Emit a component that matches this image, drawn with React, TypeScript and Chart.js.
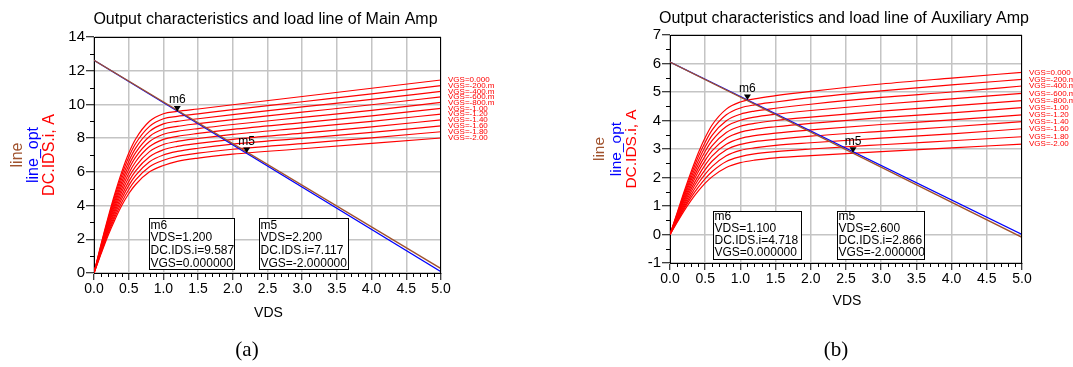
import React, { useEffect, useRef } from 'react';
import { Chart, registerables } from 'chart.js';

Chart.register(...registerables);

const FONT = '"Liberation Sans", Arial, sans-serif';
const SERIF = '"Liberation Serif", "Times New Roman", serif';
const RED = '#ff0000';
const BLUE = '#0000ff';
const BROWN = '#a0522d';
const GRID = '#c4c4c4';

// shared sweep of drain voltage (VDS, V)
const VDS = [0, 0.1, 0.2, 0.3, 0.4, 0.5, 0.6, 0.8, 1.0, 1.2, 1.5, 2.0, 3.0, 4.0, 5.0];
const VGS_LABELS = ['VGS=0.000', 'VGS=-200.m', 'VGS=-400.m', 'VGS=-600.m', 'VGS=-800.m', 'VGS=-1.00', 'VGS=-1.20', 'VGS=-1.40', 'VGS=-1.60', 'VGS=-1.80', 'VGS=-2.00'];
const X_RANGE = [0, 5];
const X_STEP = 0.5;
const X_MINOR = 0.1;

// ---- Main amp: DC.IDS.i (A) for each VGS ----
const MAIN_VGS_0_0 = [0, 1.68, 3.25, 4.70, 6.00, 7.10, 7.95, 9.00, 9.45, 9.59, 9.73, 9.98, 10.47, 10.96, 11.45];
const MAIN_VGS_0_2 = [0, 1.62, 3.15, 4.55, 5.80, 6.86, 7.68, 8.70, 9.15, 9.29, 9.44, 9.69, 10.16, 10.63, 11.11];
const MAIN_VGS_0_4 = [0, 1.57, 3.04, 4.39, 5.60, 6.62, 7.41, 8.40, 8.85, 9.00, 9.15, 9.39, 9.85, 10.30, 10.77];
const MAIN_VGS_0_6 = [0, 1.51, 2.94, 4.24, 5.40, 6.38, 7.14, 8.10, 8.54, 8.70, 8.86, 9.10, 9.54, 9.98, 10.45];
const MAIN_VGS_0_8 = [0, 1.46, 2.83, 4.08, 5.20, 6.14, 6.87, 7.80, 8.23, 8.40, 8.57, 8.81, 9.23, 9.65, 10.12];
const MAIN_VGS_1_0 = [0, 1.40, 2.73, 3.93, 5.00, 5.90, 6.60, 7.50, 7.93, 8.11, 8.28, 8.52, 8.92, 9.32, 9.77];
const MAIN_VGS_1_2 = [0, 1.35, 2.62, 3.77, 4.80, 5.66, 6.33, 7.20, 7.62, 7.81, 7.98, 8.22, 8.61, 9.00, 9.43];
const MAIN_VGS_1_4 = [0, 1.29, 2.52, 3.62, 4.60, 5.42, 6.06, 6.90, 7.31, 7.51, 7.69, 7.93, 8.30, 8.67, 9.08];
const MAIN_VGS_1_6 = [0, 1.23, 2.41, 3.46, 4.40, 5.18, 5.79, 6.60, 7.00, 7.21, 7.40, 7.64, 7.99, 8.34, 8.73];
const MAIN_VGS_1_8 = [0, 1.18, 2.31, 3.31, 4.20, 4.94, 5.52, 6.30, 6.69, 6.92, 7.11, 7.34, 7.68, 8.02, 8.38];
const MAIN_VGS_2_0 = [0, 1.12, 2.20, 3.15, 4.00, 4.70, 5.25, 6.00, 6.38, 6.62, 6.82, 7.05, 7.37, 7.69, 8.01];
const MAIN_CURVES = [MAIN_VGS_0_0, MAIN_VGS_0_2, MAIN_VGS_0_4, MAIN_VGS_0_6, MAIN_VGS_0_8, MAIN_VGS_1_0, MAIN_VGS_1_2, MAIN_VGS_1_4, MAIN_VGS_1_6, MAIN_VGS_1_8, MAIN_VGS_2_0];

const LOAD_VDS = [0, 5];
const MAIN_LINE = [12.62, 0.26];
const MAIN_LINE_OPT = [12.62, 0.08];
const MAIN_Y_RANGE = [0, 14];
const MAIN_Y_STEP = 2;
const MAIN_Y_MINOR = 1;
const MAIN_MARKER_NAMES = ['m6', 'm5'];
const MAIN_MARKER_VDS = [1.2, 2.2];
const MAIN_MARKER_IDS = [9.587, 7.117];
const MAIN_MARKER_VGS = [0, -2];

// ---- Auxiliary amp ----
const AUX_VGS_0_0 = [0, 0.75, 1.50, 2.20, 2.85, 3.40, 3.85, 4.40, 4.65, 4.76, 4.87, 5.02, 5.28, 5.49, 5.69];
const AUX_VGS_0_2 = [0, 0.72, 1.43, 2.10, 2.72, 3.24, 3.67, 4.20, 4.44, 4.55, 4.65, 4.80, 5.04, 5.25, 5.44];
const AUX_VGS_0_4 = [0, 0.68, 1.37, 2.00, 2.58, 3.08, 3.49, 3.99, 4.22, 4.33, 4.43, 4.57, 4.81, 5.00, 5.21];
const AUX_VGS_0_6 = [0, 0.65, 1.30, 1.90, 2.45, 2.92, 3.30, 3.79, 4.01, 4.12, 4.22, 4.35, 4.57, 4.76, 4.95];
const AUX_VGS_0_8 = [0, 0.62, 1.23, 1.80, 2.32, 2.76, 3.12, 3.58, 3.80, 3.90, 4.00, 4.12, 4.33, 4.51, 4.70];
const AUX_VGS_1_0 = [0, 0.59, 1.17, 1.70, 2.19, 2.60, 2.94, 3.38, 3.59, 3.69, 3.78, 3.90, 4.10, 4.27, 4.45];
const AUX_VGS_1_2 = [0, 0.55, 1.10, 1.60, 2.05, 2.44, 2.76, 3.17, 3.37, 3.47, 3.56, 3.67, 3.86, 4.02, 4.20];
const AUX_VGS_1_4 = [0, 0.52, 1.03, 1.50, 1.92, 2.28, 2.58, 2.97, 3.16, 3.26, 3.34, 3.45, 3.62, 3.78, 3.96];
const AUX_VGS_1_6 = [0, 0.49, 0.96, 1.40, 1.79, 2.12, 2.39, 2.76, 2.95, 3.04, 3.13, 3.22, 3.38, 3.53, 3.71];
const AUX_VGS_1_8 = [0, 0.45, 0.90, 1.30, 1.65, 1.96, 2.21, 2.56, 2.73, 2.83, 2.91, 3.00, 3.15, 3.29, 3.43];
const AUX_VGS_2_0 = [0, 0.42, 0.83, 1.20, 1.52, 1.80, 2.03, 2.35, 2.52, 2.61, 2.69, 2.77, 2.91, 3.04, 3.17];
const AUX_CURVES = [AUX_VGS_0_0, AUX_VGS_0_2, AUX_VGS_0_4, AUX_VGS_0_6, AUX_VGS_0_8, AUX_VGS_1_0, AUX_VGS_1_2, AUX_VGS_1_4, AUX_VGS_1_6, AUX_VGS_1_8, AUX_VGS_2_0];

const AUX_LINE = [6.05, -0.10];
const AUX_LINE_OPT = [6.05, 0.0];
const AUX_Y_RANGE = [-1, 7];
const AUX_Y_STEP = 1;
const AUX_Y_MINOR = 0.5;
const AUX_MARKER_NAMES = ['m6', 'm5'];
const AUX_MARKER_VDS = [1.1, 2.6];
const AUX_MARKER_IDS = [4.718, 2.866];
const AUX_MARKER_VGS = [0, -2];

type Cfg = {
  key: string;
  w: number;
  offsetX: number;
  yAxisWidth: number;
  padTop: number;
  padRight: number;
  padBottom: number;
  title: string;
  titleBaseline: number;
  curves: number[][];
  line: number[];
  lineOpt: number[];
  yRange: number[];
  yStep: number;
  yMinor: number;
  markerNames: string[];
  markerVds: number[];
  markerIds: number[];
  markerVgs: number[];
  boxes: { x: number; y: number; w: number; h: number }[];
  boxFirst: number;
  boxSpacing: number;
  yTitleX: number[];
  yTitleFont: number;
  xTitleBaseline: number;
  sub: string;
  subX: number;
  subBaseline: number;
  labelFont: number;
};

function overlay(cfg: Cfg) {
  return {
    id: 'overlay_' + cfg.key,
    afterDraw(chart: any) {
      const { ctx, chartArea: a, scales } = chart;
      const xs = scales.x;
      const ys = scales.y;
      ctx.save();
      // top and right frame
      ctx.strokeStyle = '#000';
      ctx.lineWidth = 1;
      ctx.beginPath();
      ctx.moveTo(a.left, a.top + 0.5);
      ctx.lineTo(a.right, a.top + 0.5);
      ctx.moveTo(a.right - 0.5, a.top);
      ctx.lineTo(a.right - 0.5, a.bottom);
      ctx.stroke();

      // minor ticks
      ctx.beginPath();
      const nx = Math.round((X_RANGE[1] - X_RANGE[0]) / X_MINOR);
      for (let i = 0; i <= nx; i++) {
        if (i % Math.round(X_STEP / X_MINOR) === 0) continue;
        const px = Math.round(xs.getPixelForValue(X_RANGE[0] + i * X_MINOR)) + 0.5;
        ctx.moveTo(px, a.bottom);
        ctx.lineTo(px, a.bottom + 4);
      }
      const ny = Math.round((cfg.yRange[1] - cfg.yRange[0]) / cfg.yMinor);
      for (let i = 0; i <= ny; i++) {
        if (i % Math.round(cfg.yStep / cfg.yMinor) === 0) continue;
        const py = Math.round(ys.getPixelForValue(cfg.yRange[0] + i * cfg.yMinor)) + 0.5;
        ctx.moveTo(a.left - 4, py);
        ctx.lineTo(a.left, py);
      }
      ctx.stroke();

      // curve labels at the right end of each VGS curve
      ctx.fillStyle = RED;
      ctx.font = `${cfg.labelFont}px ${FONT}`;
      ctx.textAlign = 'left';
      ctx.textBaseline = 'middle';
      cfg.curves.forEach((arr, i) => {
        const py = ys.getPixelForValue(arr[arr.length - 1]);
        ctx.fillText(VGS_LABELS[i], a.right + 7, py);
      });

      // markers
      ctx.fillStyle = '#000';
      ctx.font = `12px ${FONT}`;
      ctx.textAlign = 'center';
      ctx.textBaseline = 'alphabetic';
      cfg.markerNames.forEach((name, i) => {
        const px = xs.getPixelForValue(cfg.markerVds[i]);
        const py = ys.getPixelForValue(cfg.markerIds[i]);
        ctx.beginPath();
        ctx.moveTo(px, py);
        ctx.lineTo(px - 3.5, py - 5.5);
        ctx.lineTo(px + 3.5, py - 5.5);
        ctx.closePath();
        ctx.fill();
        ctx.fillText(name, px, py - 8);
      });

      // marker readout boxes
      ctx.textAlign = 'left';
      ctx.strokeStyle = '#000';
      ctx.lineWidth = 1;
      cfg.boxes.forEach((b, i) => {
        ctx.fillStyle = '#fff';
        ctx.fillRect(b.x, b.y, b.w, b.h);
        ctx.strokeRect(b.x + 0.5, b.y + 0.5, b.w, b.h);
        ctx.fillStyle = '#000';
        const lines = [
          cfg.markerNames[i],
          `VDS=${cfg.markerVds[i].toFixed(3)}`,
          `DC.IDS.i=${cfg.markerIds[i].toFixed(3)}`,
          `VGS=${cfg.markerVgs[i].toFixed(6)}`,
        ];
        lines.forEach((t, k) => ctx.fillText(t, b.x + 1.5, b.y + cfg.boxFirst + k * cfg.boxSpacing));
      });

      // title
      const cx = (a.left + a.right) / 2;
      ctx.textAlign = 'center';
      ctx.font = `16px ${FONT}`;
      ctx.fillText(cfg.title, cx - 2, cfg.titleBaseline);

      // x axis title
      ctx.font = `14px ${FONT}`;
      ctx.fillText('VDS', cx + 1, cfg.xTitleBaseline);

      // y axis title (three coloured lines, rotated)
      const cy = (a.top + a.bottom) / 2;
      const yt: [string, string][] = [['line', BROWN], ['line_opt', BLUE], ['DC.IDS.i, A', RED]];
      ctx.font = `${cfg.yTitleFont}px ${FONT}`;
      ctx.textBaseline = 'middle';
      yt.forEach(([t, c], i) => {
        ctx.save();
        ctx.translate(cfg.yTitleX[i], cy);
        ctx.rotate(-Math.PI / 2);
        ctx.fillStyle = c;
        ctx.fillText(t, 0, 0);
        ctx.restore();
      });

      // sub caption
      ctx.fillStyle = '#000';
      ctx.textBaseline = 'alphabetic';
      ctx.font = `21px ${SERIF}`;
      ctx.fillText(cfg.sub, cfg.subX, cfg.subBaseline);
      ctx.restore();
    },
  };
}

function buildConfig(cfg: Cfg): any {
  const curveSets = cfg.curves.map((arr, i) => ({
    label: VGS_LABELS[i],
    data: VDS.map((x, k) => ({ x, y: arr[k] })),
    borderColor: RED,
    borderWidth: 1.2,
    pointRadius: 0,
    cubicInterpolationMode: 'monotone',
    fill: false,
    order: 2,
  }));
  const lineOpt = {
    label: 'line_opt',
    data: LOAD_VDS.map((x, k) => ({ x, y: cfg.lineOpt[k] })),
    borderColor: BLUE,
    borderWidth: 1.3,
    pointRadius: 0,
    fill: false,
    order: 1,
  };
  const line = {
    label: 'line',
    data: LOAD_VDS.map((x, k) => ({ x, y: cfg.line[k] })),
    borderColor: BROWN,
    borderWidth: 1.3,
    pointRadius: 0,
    fill: false,
    order: 0,
  };
  return {
    type: 'line',
    data: { datasets: [...curveSets, lineOpt, line] },
    options: {
      responsive: false,
      animation: false,
      devicePixelRatio: 1,
      layout: { padding: { left: 0, right: cfg.padRight, top: cfg.padTop, bottom: cfg.padBottom } },
      plugins: { legend: { display: false }, title: { display: false }, tooltip: { enabled: false } },
      scales: {
        x: {
          type: 'linear',
          min: X_RANGE[0],
          max: X_RANGE[1],
          afterFit: (s: any) => { s.height = 40; },
          ticks: {
            stepSize: X_STEP,
            callback: (v: any) => Number(v).toFixed(1),
            font: { family: FONT, size: 14 },
            color: '#000',
            padding: 1,
            maxRotation: 0,
            autoSkip: false,
          },
          grid: { color: GRID, lineWidth: 1.5, tickColor: '#000', tickLength: 7, tickWidth: 1 },
          border: { display: true, color: '#000', width: 1 },
        },
        y: {
          type: 'linear',
          min: cfg.yRange[0],
          max: cfg.yRange[1],
          afterFit: (s: any) => { s.width = cfg.yAxisWidth; },
          ticks: {
            stepSize: cfg.yStep,
            callback: (v: any) => String(Math.round(Number(v))),
            font: { family: FONT, size: 15 },
            color: '#000',
            padding: 1,
            autoSkip: false,
          },
          grid: { color: GRID, lineWidth: 1.5, tickColor: '#000', tickLength: 8, tickWidth: 1 },
          border: { display: true, color: '#000', width: 1 },
        },
      },
    },
    plugins: [overlay(cfg)],
  };
}

const MAIN_CFG: Cfg = {
  key: 'main',
  w: 540,
  offsetX: 0,
  yAxisWidth: 94,
  padTop: 37,
  padRight: 99,
  padBottom: 54,
  title: 'Output characteristics and load line of Main Amp',
  titleBaseline: 24,
  curves: MAIN_CURVES,
  line: MAIN_LINE,
  lineOpt: MAIN_LINE_OPT,
  yRange: MAIN_Y_RANGE,
  yStep: MAIN_Y_STEP,
  yMinor: MAIN_Y_MINOR,
  markerNames: MAIN_MARKER_NAMES,
  markerVds: MAIN_MARKER_VDS,
  markerIds: MAIN_MARKER_IDS,
  markerVgs: MAIN_MARKER_VGS,
  boxes: [
    { x: 149, y: 218, w: 85, h: 51 },
    { x: 259, y: 218, w: 89, h: 51 },
  ],
  boxFirst: 10.5,
  boxSpacing: 12.8,
  yTitleX: [17.5, 34, 50],
  yTitleFont: 16,
  xTitleBaseline: 317,
  sub: '(a)',
  subX: 247,
  subBaseline: 356,
  labelFont: 8,
};

const AUX_CFG: Cfg = {
  key: 'aux',
  w: 533,
  offsetX: 540,
  yAxisWidth: 130,
  padTop: 35,
  padRight: 51,
  padBottom: 64,
  title: 'Output characteristics and load line of Auxiliary Amp',
  titleBaseline: 23,
  curves: AUX_CURVES,
  line: AUX_LINE,
  lineOpt: AUX_LINE_OPT,
  yRange: AUX_Y_RANGE,
  yStep: AUX_Y_STEP,
  yMinor: AUX_Y_MINOR,
  markerNames: AUX_MARKER_NAMES,
  markerVds: AUX_MARKER_VDS,
  markerIds: AUX_MARKER_IDS,
  markerVgs: AUX_MARKER_VGS,
  boxes: [
    { x: 173, y: 211, w: 88, h: 48 },
    { x: 297, y: 211, w: 87, h: 48 },
  ],
  boxFirst: 8.5,
  boxSpacing: 12.3,
  yTitleX: [60, 76.5, 91.5],
  yTitleFont: 15.5,
  xTitleBaseline: 305,
  sub: '(b)',
  subX: 296,
  subBaseline: 356,
  labelFont: 8,
};

function ChartCanvas({ cfg }: { cfg: Cfg }) {
  const ref = useRef<HTMLCanvasElement>(null);
  useEffect(() => {
    const chart = new Chart(ref.current as HTMLCanvasElement, buildConfig(cfg));
    return () => chart.destroy();
  }, [cfg]);
  return (
    <canvas
      ref={ref}
      width={cfg.w}
      height={367}
      style={{ position: 'absolute', left: cfg.offsetX, top: 0, width: cfg.w, height: 367 }}
    />
  );
}

export default function App() {
  return (
    <div style={{ position: 'absolute', left: 0, top: 0, width: 1073, height: 367, background: '#fff', overflow: 'hidden' }}>
      <ChartCanvas cfg={MAIN_CFG} />
      <ChartCanvas cfg={AUX_CFG} />
    </div>
  );
}
